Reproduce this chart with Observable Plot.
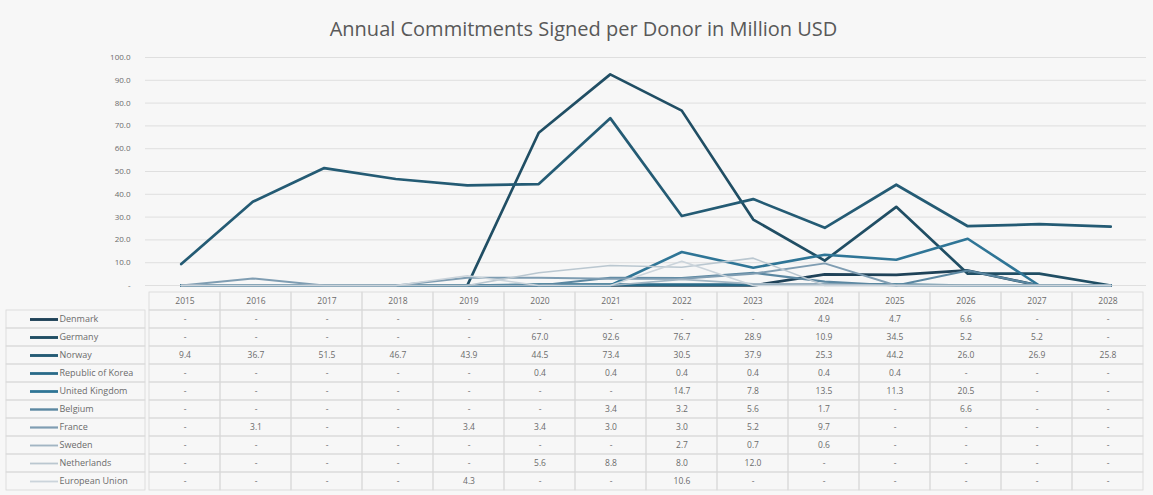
<!DOCTYPE html>
<html><head><meta charset="utf-8">
<script src="https://cdn.jsdelivr.net/npm/d3@7"></script>
<script src="https://cdn.jsdelivr.net/npm/@observablehq/plot@0.6"></script>
<style>
body{margin:0;background:#f7f7f7;font-family:"Open Sans",sans-serif;}
#wrap{width:1153px;height:495px;position:relative;overflow:hidden;background:#f7f7f7}
#title{height:48px;box-sizing:border-box;padding-top:17px;text-align:center;font-size:20px;line-height:24px;color:#595959;padding-left:14px}
svg{display:block}
</style></head><body><div id="wrap"><div id="title">Annual Commitments Signed per Donor in Million USD</div></div>
<script>
const years = [2015,2016,2017,2018,2019,2020,2021,2022,2023,2024,2025,2026,2027,2028];
const donors = ["Denmark","Germany","Norway","Republic of Korea","United Kingdom","Belgium","France","Sweden","Netherlands","European Union"];
const denmark     = [0,0,0,0,0,0,0,0,0,4.9,4.7,6.6,0,0];
const germany     = [0,0,0,0,0,67.0,92.6,76.7,28.9,10.9,34.5,5.2,5.2,0];
const norway      = [9.4,36.7,51.5,46.7,43.9,44.5,73.4,30.5,37.9,25.3,44.2,26.0,26.9,25.8];
const korea       = [0,0,0,0,0,0.4,0.4,0.4,0.4,0.4,0.4,0,0,0];
const uk          = [0,0,0,0,0,0,0,14.7,7.8,13.5,11.3,20.5,0,0];
const belgium     = [0,0,0,0,0,0,3.4,3.2,5.6,1.7,0,6.6,0,0];
const france      = [0,3.1,0,0,3.4,3.4,3.0,3.0,5.2,9.7,0,0,0,0];
const sweden      = [0,0,0,0,0,0,0,2.7,0.7,0.6,0,0,0,0];
const netherlands = [0,0,0,0,0,5.6,8.8,8.0,12.0,0,0,0,0,0];
const eu          = [0,0,0,0,4.3,0,0,10.6,0,0,0,0,0,0];
const yTicks = [0,10,20,30,40,50,60,70,80,90,100];

const series = [denmark,germany,norway,korea,uk,belgium,france,sweden,netherlands,eu];
const colors = ["#1f4258","#204e64","#245b74","#296a88","#2f7596","#5b87a1","#7f9db2","#a2b5c3","#bac7d0","#cbd4db"];
const widths = [2.7,2.7,2.7,2.6,2.6,2.2,2,1.7,1.6,1.6];

const rows = donors.flatMap((d,i)=>years.map((y,j)=>({donor:d, year:y, value:series[i][j]})));

const wrap = document.getElementById("wrap");
const baseStyle = {background:"transparent", fontFamily:"Open Sans, sans-serif", fontSize:"8px", color:"#6b6b6b", overflow:"visible"};

const chart = Plot.plot({
  width:1153, height:240, marginLeft:145, marginRight:7, marginTop:9, marginBottom:3,
  style: baseStyle,
  x:{domain:[2014.5,2028.5], axis:null},
  y:{domain:[0,100], ticks:yTicks, tickSize:0, tickPadding:15, tickFormat:d=>d===0?"-":d.toFixed(1), label:null},
  marks:[
    Plot.ruleY(yTicks, {stroke:"#dfdfdf", strokeWidth:1}),
    ...donors.map((d,i)=>Plot.line(rows.filter(r=>r.donor===d), {x:"year", y:"value", stroke:colors[i], strokeWidth:widths[i], strokeLinejoin:"round", strokeLinecap:"round"}))
  ]
});
wrap.appendChild(chart);

const tableRows = ["header", ...donors];
const gridCells = years.flatMap(y=>tableRows.map(r=>({year:y,row:r})));
const table = Plot.plot({
  width:1153, height:207, marginLeft:0, marginRight:0, marginTop:0, marginBottom:2,
  style: baseStyle,
  x:{type:"band", domain:years, range:[145,1146], padding:0, axis:null},
  y:{type:"band", domain:tableRows, padding:0, axis:null},
  marks:[
    Plot.cell(gridCells, {x:"year", y:"row", fill:"none", stroke:"#d8d8d8", strokeWidth:0.8}),
    Plot.cell(donors, {y:d=>d, fill:"none", stroke:"#d8d8d8", strokeWidth:0.8, insetLeft:6, insetRight:1153-145}),
    Plot.text(years, {x:d=>d, y:()=>"header", text:d=>String(d), fill:"#6b6b6b", fontSize:8.5}),
    Plot.text(rows, {x:"year", y:"donor", text:d=>d.value?d.value.toFixed(1):"-", fill:"#6b6b6b", fontSize:8.5}),
    Plot.text(donors, {y:d=>d, text:d=>d, frameAnchor:"left", dx:59, textAnchor:"start", fill:"#6b6b6b", fontSize:9}),
    ...donors.map((d,i)=>Plot.ruleY([d], {y:v=>v, stroke:colors[i], strokeWidth:widths[i]+0.2, insetLeft:30, insetRight:1153-58}))
  ]
});
wrap.appendChild(table);
</script></body></html>
